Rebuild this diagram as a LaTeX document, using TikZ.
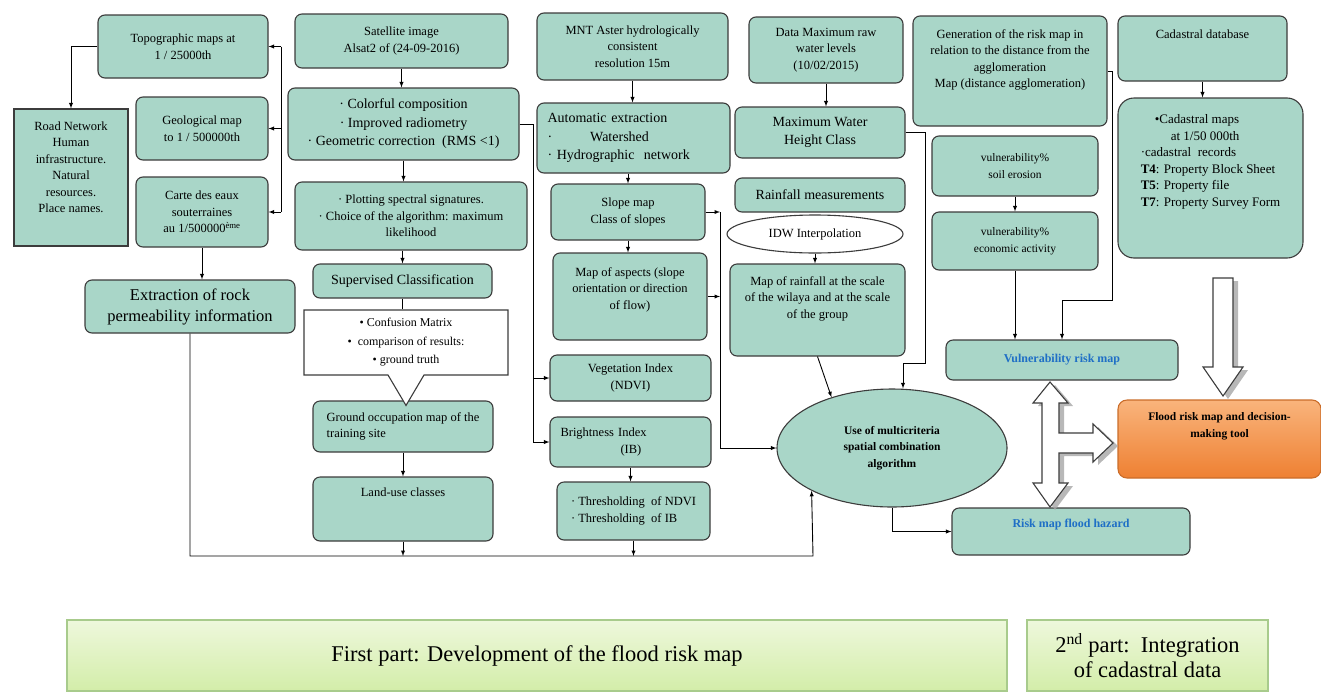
\documentclass[tikz,border=0pt]{standalone}
\usepackage{fontspec}
\setmainfont{Liberation Serif}
\usepackage{tikz}
\usetikzlibrary{calc,positioning,shapes,shadows,arrows}
\definecolor{boxfill}{HTML}{A9D6C8}
\definecolor{boxline}{HTML}{3C3C3C}
\definecolor{riskblue}{HTML}{1F6FC6}
\definecolor{orangetop}{HTML}{F9B47C}
\definecolor{orangebot}{HTML}{EE8032}
\definecolor{bandtop}{HTML}{EEF8DC}
\definecolor{bandbot}{HTML}{D3EDA9}
\definecolor{bandline}{HTML}{A8CB8C}
\tikzset{
	box/.style={draw=boxline,fill=boxfill,rounded corners=7pt,line width=1.1pt,align=center,inner sep=2pt,font=\fontsize{12.5}{16.5}\selectfont},
	bigbox/.style={box,font=\fontsize{14}{18.5}\selectfont},
	smallbox/.style={box,font=\fontsize{11.5}{16.5}\selectfont},
	boxtext/.style={align=center,inner sep=0pt,font=\fontsize{12.5}{16.5}\selectfont},
	callbox/.style={rectangle callout,draw=boxline,fill=white,line width=1.1pt,align=center,inner sep=2pt,callout pointer width=36pt,font=\fontsize{12}{18.5}\selectfont},
	oval/.style={ellipse,draw=boxline,fill=white,line width=1.1pt,inner sep=0pt,font=\fontsize{12.5}{16.5}\selectfont},
	riskbox/.style={box,text=riskblue,font=\fontsize{12}{16}\selectfont\bfseries},
	finalbox/.style={draw=orangebot!85!black,top color=orangetop,bottom color=orangebot,rounded corners=9pt,line width=1.1pt},
	band/.style={draw=bandline,top color=bandtop,bottom color=bandbot,line width=1.1pt,align=center,font=\fontsize{22.5}{25}\selectfont},
	hollow/.style={draw=boxline,fill=white,line width=1.1pt,drop shadow={shadow xshift=5pt,shadow yshift=-3pt,fill=black!35,opacity=.8}},
}
\begin{document}
\begin{tikzpicture}[x=1pt,y=-1pt,>=latex,line width=0.9pt]
		\useasboundingbox (0,0) rectangle (1321,691);
		\node[box,minimum width=170pt,minimum height=63pt] (topo) at (183,46.5) {Topographic maps at\\1 / 25000th};
		\node[box,sharp corners,minimum width=114pt,minimum height=137pt] (road) at (71,177.5) {};
		\node[boxtext,below=12.5pt of road.north] {Road Network\\Human\\infrastructure.\\Natural\\resources.\\Place names.};
		\node[box,minimum width=132pt,minimum height=63pt] (geo) at (202,128.5) {Geological map\\to 1 / 500000th};
		\node[box,minimum width=132pt,minimum height=70pt] (carte) at (202,212) {Carte des eaux\\souterraines\\au 1/500000\textsuperscript{ème}};
		\node[box,font=\fontsize{16.5}{21}\selectfont,minimum width=210pt,minimum height=53pt] (rock) at (190,306.5) {Extraction of rock\\permeability information};
		\node[box,minimum width=213pt,minimum height=54pt] (sat) at (401.5,41) {Satellite image\\Alsat2 of (24-09-2016)};
		\node[bigbox,minimum width=231pt,minimum height=72pt] (comp) at (403.5,124) {· Colorful composition\\· Improved radiometry\\· Geometric correction\ \ (RMS <1)};
		\node[box,minimum width=232pt,minimum height=68pt] (plot) at (411,216) {· Plotting spectral signatures.\\· Choice of the algorithm: maximum\\likelihood};
		\node[bigbox,minimum width=179pt,minimum height=34pt] (sup) at (402.5,281) {Supervised Classification};
		\node[box,align=left,minimum width=180pt,minimum height=51pt] (ground) at (403,426.5) {Ground occupation map of the\\training site};
		\node[callbox,minimum width=204pt,minimum height=65pt,callout absolute pointer={($(ground.north)+(3,5)$)}] (conf) at (406,342.5) {• Confusion Matrix\\•\ \ comparison of results:\\• ground truth};
		\node[box,minimum width=180pt,minimum height=64pt] (land) at (403,509) {};
		\node[boxtext,below=10.5pt of land.north] {Land-use classes};
		\node[box,minimum width=191pt,minimum height=67pt] (mnt) at (632.5,46.5) {MNT Aster hydrologically\\consistent\\resolution 15m};
		\node[bigbox,align=left,text width=172pt,minimum width=193pt,minimum height=70pt] (auto) at (633.5,138) {Automatic extraction\\·\hspace{38pt}Watershed\\· Hydrographic\ \ network};
		\node[box,minimum width=154pt,minimum height=56pt] (slope) at (628,212) {Slope map\\Class of slopes};
		\node[box,minimum width=154pt,minimum height=87pt] (aspect) at (630,296.5) {};
		\node[boxtext,below=14.5pt of aspect.north] {Map of aspects (slope\\orientation or direction\\of flow)};
		\node[box,minimum width=161pt,minimum height=46pt] (veg) at (630.5,378) {Vegetation Index\\(NDVI)};
		\node[box,align=left,text width=140pt,minimum width=161pt,minimum height=50pt] (bright) at (630.5,442) {Brightness Index\\\hspace*{60pt}(IB)};
		\node[box,align=left,minimum width=153pt,minimum height=58pt] (thresh) at (633.5,511) {· Thresholding\ \ of NDVI\\· Thresholding\ \ of IB};
		\node[box,minimum width=154pt,minimum height=66pt] (data) at (826,50) {Data Maximum raw\\water levels\\(10/02/2015)};
		\node[bigbox,minimum width=170pt,minimum height=51pt] (maxw) at (820,132.5) {Maximum Water\\Height Class};
		\node[bigbox,minimum width=170pt,minimum height=34pt] (rain) at (820,195) {Rainfall measurements};
		\node[oval,minimum width=176pt,minimum height=38pt] (idw) at (815,234) {IDW Interpolation};
		\node[box,minimum width=175pt,minimum height=92pt] (rmap) at (817.5,310) {};
		\node[boxtext,below=12.5pt of rmap.north] {Map of rainfall at the scale\\of the wilaya and at the scale\\of the group};
		\node[oval,fill=boxfill,align=center,minimum width=230pt,minimum height=118pt,font=\fontsize{11.5}{16.5}\selectfont\bfseries] (ell) at (892,448) {Use of multicriteria\\spatial combination\\algorithm};
		\node[box,minimum width=194pt,minimum height=110pt] (gen) at (1010,71) {};
		\node[boxtext,below=13.5pt of gen.north] {Generation of the risk map in\\relation to the distance from the\\agglomeration\\Map (distance agglomeration)};
		\node[smallbox,minimum width=166pt,minimum height=60pt] (soil) at (1015,166) {vulnerability\%\\soil erosion};
		\node[smallbox,minimum width=166pt,minimum height=58pt] (econ) at (1015,241) {vulnerability\%\\economic activity};
		\node[riskbox,minimum width=232pt,minimum height=40pt] (vuln) at (1062,360) {Vulnerability risk map};
		\node[box,minimum width=238pt,minimum height=47pt] (hazard) at (1071,531.5) {};
		\node[boxtext,text=riskblue,font=\fontsize{12}{16}\selectfont\bfseries,below=11.5pt of hazard.north] {Risk map flood hazard};
		\node[box,minimum width=169pt,minimum height=65pt] (cad) at (1202.5,48.5) {};
		\node[boxtext,below=13.5pt of cad.north] {Cadastral database};
		\node[box,rounded corners=16pt,minimum width=185pt,minimum height=160pt] (cadm) at (1210.5,178) {};
		\node[boxtext,align=left,font=\fontsize{13}{16.6}\selectfont,below=16.5pt of cadm.north] {\hspace*{14pt}•Cadastral maps\\\hspace*{30pt}at 1/50 000th\\·cadastral\ \ records\\\textbf{T4}: Property Block Sheet\\\textbf{T5}: Property file\\\textbf{T7}: Property Survey Form};
		\node[finalbox,minimum width=203pt,minimum height=78pt] (final) at (1219.5,439) {};
		\node[boxtext,font=\fontsize{11.5}{16.5}\selectfont\bfseries,below=13pt of final.north] {Flood risk map and decision-\\making tool};
		\node[band,minimum width=940pt,minimum height=71pt] (part1) at (537,655.5) {First part: Development of the flood risk map};
		\node[band,minimum width=241pt,minimum height=71pt] (part2) at (1147.5,655.5) {2\textsuperscript{nd} part:\ \ Integration\\of cadastral data};
		\draw[->] (topo.west) -| (road.north);
		\coordinate (bk1) at (281,46.5);
		\coordinate (bk2) at (281,212);
		\draw (bk1) -- (bk2);
		\draw[->] (bk1) -- (topo.east);
		\draw[->] (bk1 |- geo.east) -- (geo.east);
		\draw[->] (bk2) -- (carte.east);
		\draw[->] (carte.south) -- (carte.south |- rock.north);
		\coordinate (bus) at (813,556);
		\draw[->] (rock.south) |- (bus) -- (ell.208);
		\draw[->] (sat.south) -- (sat.south |- comp.north);
		\draw[->] (comp.south) -- (comp.south |- plot.north);
		\draw[->] (plot.south -| sup.north) -- (sup.north);
		\draw (sup.south) -- (sup.south |- conf.north);
		\draw[->] (ground.south) -- (ground.south |- land.north);
		\draw[->] (land.south) -- (land.south |- bus);
		\draw (comp.east) -- ++(14,0) coordinate (cx);
		\draw[->] (cx) |- (bright.west);
		\draw[->] (cx |- veg.west) -- (veg.west);
		\draw[->] (mnt.south) -- (mnt.south |- auto.north);
		\draw[->] (auto.south -| slope.north) -- (slope.north);
		\draw[->] (slope.south) -- (slope.south |- aspect.north);
		\coordinate (sx) at (720,212);
		\draw[->] (slope.east) -- (sx);
		\draw[->] (aspect.east) -- (aspect.east -| sx);
		\draw[->] (sx) |- (ell.west);
		\draw[->] (bright.south) -- (bright.south |- thresh.north);
		\draw[->] (thresh.south) -- (thresh.south |- bus);
		\draw[->] (data.south) -- (data.south |- maxw.north);
		\draw[->] (idw.south) -- (idw.south |- rmap.north);
		\draw[->] (rmap.south) -- (ell.140);
		\coordinate (mx) at (925,363);
		\draw[->] (maxw.east) -| (mx) -| ($(ell.north)+(11,0)$);
		\draw[->] (ell.south) |- (hazard.west);
		\draw[->] (soil.south) -- (soil.south |- econ.north);
		\draw[->] (econ.south) -- (econ.south |- vuln.north);
		\coordinate (gx) at (1112,300);
		\draw[->] (gen.east) -| (gx) -| (vuln.north);
		\draw[->] (cad.south) -- (cad.south |- cadm.north);
		\draw[hollow] (1213,278) -- (1233,278) -- (1233,367) -- (1243,367) -- (1223,396) -- (1203,367) -- (1213,367) -- cycle;
		\draw[hollow] (1050,382) -- (1068,403) -- (1059,403) -- (1059,433) -- (1093,433) -- (1093,424) -- (1113,443) -- (1093,462) -- (1093,453) -- (1059,453) -- (1059,483) -- (1068,483) -- (1050,507) -- (1033,483) -- (1042,483) -- (1042,403) -- (1033,403) -- cycle;
	\end{tikzpicture}
\end{document}
